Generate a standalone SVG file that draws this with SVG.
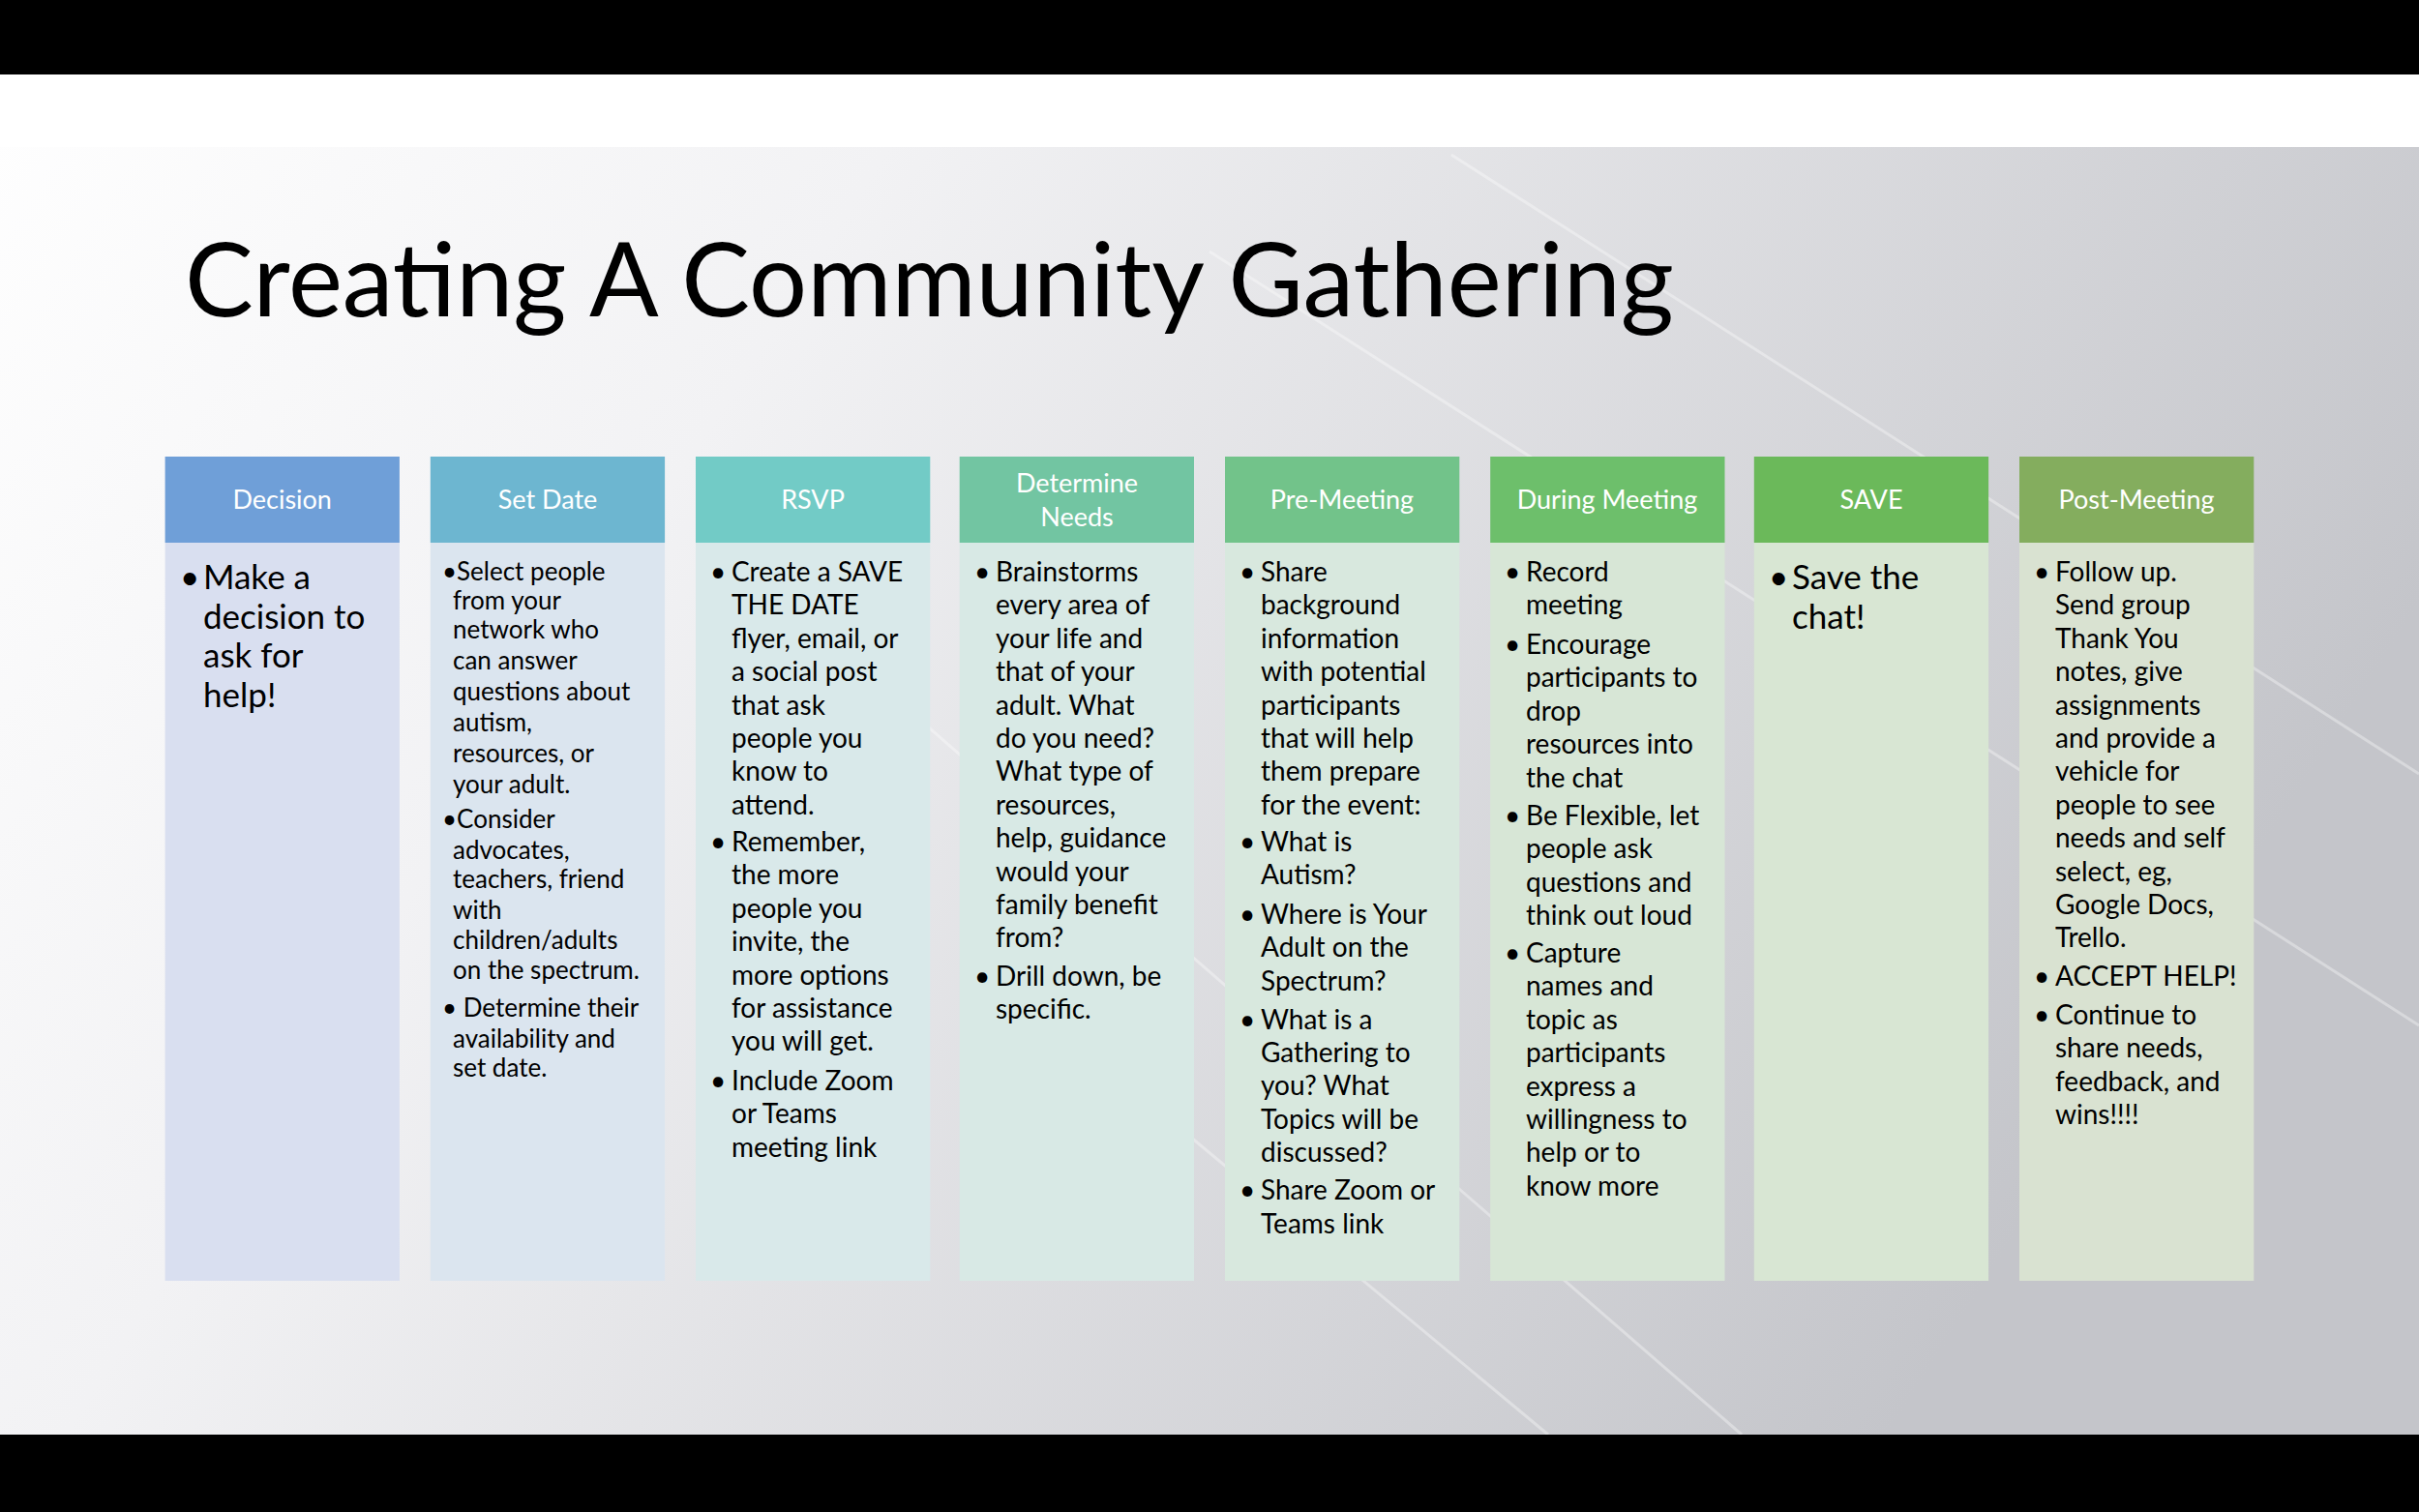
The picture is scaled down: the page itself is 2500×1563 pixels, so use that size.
<svg xmlns="http://www.w3.org/2000/svg" width="2500" height="1563" viewBox="0 0 2500 1563">
<defs>
<linearGradient id="bg" x1="0" y1="0" x2="1" y2="0.4"><stop offset="0" stop-color="#ffffff"/><stop offset="0.35" stop-color="#f2f2f4"/><stop offset="1" stop-color="#c4c5ca"/></linearGradient>
<style>
.h{fill:#fff;font-family:Lato,"Liberation Sans",sans-serif;font-size:27px;text-anchor:middle}
.t{fill:#000;font-family:Lato,"Liberation Sans",sans-serif;font-size:28px}
.s{font-size:26px}
.b{font-size:35px}
.ln{stroke:#fff;stroke-opacity:0.35;stroke-width:3}
</style>
</defs>
<rect width="2500" height="1563" fill="url(#bg)"/>
<rect x="0" y="77" width="2500" height="75" fill="#fff"/>
<g class="ln"><line x1="1250" y1="260" x2="2500" y2="1060"/><line x1="1500" y1="160" x2="2500" y2="800"/><line x1="900" y1="700" x2="1800" y2="1483"/><line x1="1200" y1="1150" x2="1600" y2="1483"/></g>
<rect x="0" y="0" width="2500" height="77" fill="#000"/>
<rect x="0" y="1483" width="2500" height="80" fill="#000"/>
<text x="191" y="327" font-family="Lato,'Liberation Sans',sans-serif" font-size="106" fill="#000">Creating A Community Gathering</text>

<g id="decision"><rect x="170.6" y="472" width="242.3" height="89" fill="#6f9fd8"/><rect x="170.6" y="561" width="242.3" height="763" fill="#d9dff0"/>
<text class="h" x="291.7" y="526">Decision</text>
<text class="t b"><tspan x="186" y="609">•</tspan><tspan x="210" y="609">Make a</tspan><tspan x="210" dy="40.5">decision to</tspan><tspan x="210" dy="40.5">ask for</tspan><tspan x="210" dy="40.5">help!</tspan></text></g>

<g id="setdate"><rect x="444.8" y="472" width="242.3" height="89" fill="#6db6d0"/><rect x="444.8" y="561" width="242.3" height="763" fill="#dbe5ef"/>
<text class="h" x="566" y="526">Set Date</text>
<text class="t s"><tspan x="457" y="599.5">•Select people</tspan><tspan x="468" y="629.8">from your</tspan><tspan x="468" y="660.1">network who</tspan><tspan x="468" y="692">can answer</tspan><tspan x="468" y="723.9">questions about</tspan><tspan x="468" y="755.7">autism,</tspan><tspan x="468" y="787.6">resources, or</tspan><tspan x="468" y="819.5">your adult.</tspan>
<tspan x="457" y="856.2">•Consider</tspan><tspan x="468" y="888.1">advocates,</tspan><tspan x="468" y="918.4">teachers, friend</tspan><tspan x="468" y="950.3">with</tspan><tspan x="468" y="980.6">children/adults</tspan><tspan x="468" y="1012.4">on the spectrum.</tspan>
<tspan x="457" y="1050.7">• Determine their</tspan><tspan x="468" y="1082.6">availability and</tspan><tspan x="468" y="1112.9">set date.</tspan></text></g>

<g id="rsvp"><rect x="719" y="472" width="242.3" height="89" fill="#72cbc6"/><rect x="719" y="561" width="242.3" height="763" fill="#d9e9ea"/>
<text class="h" x="840" y="526">RSVP</text>
<text class="t"><tspan x="734" y="601">•</tspan><tspan x="756" y="601">Create a SAVE</tspan><tspan x="756" dy="34.4">THE DATE</tspan><tspan x="756" dy="34.4">flyer, email, or</tspan><tspan x="756" dy="34.4">a social post</tspan><tspan x="756" dy="34.4">that ask</tspan><tspan x="756" dy="34.4">people you</tspan><tspan x="756" dy="34.4">know to</tspan><tspan x="756" dy="34.4">attend.</tspan>
<tspan x="734" y="880">•</tspan><tspan x="756" y="880">Remember,</tspan><tspan x="756" dy="34.4">the more</tspan><tspan x="756" dy="34.4">people you</tspan><tspan x="756" dy="34.4">invite, the</tspan><tspan x="756" dy="34.4">more options</tspan><tspan x="756" dy="34.4">for assistance</tspan><tspan x="756" dy="34.4">you will get.</tspan>
<tspan x="734" y="1127">•</tspan><tspan x="756" y="1127">Include Zoom</tspan><tspan x="756" dy="34.4">or Teams</tspan><tspan x="756" dy="34.4">meeting link</tspan></text></g>

<g id="needs"><rect x="991.7" y="472" width="242.3" height="89" fill="#72c5a2"/><rect x="991.7" y="561" width="242.3" height="763" fill="#d8e9e5"/>
<text class="h" x="1113" y="508.6">Determine</text><text class="h" x="1113" y="543.7">Needs</text>
<text class="t"><tspan x="1007" y="601">•</tspan><tspan x="1029" y="601">Brainstorms</tspan><tspan x="1029" dy="34.4">every area of</tspan><tspan x="1029" dy="34.4">your life and</tspan><tspan x="1029" dy="34.4">that of your</tspan><tspan x="1029" dy="34.4">adult. What</tspan><tspan x="1029" dy="34.4">do you need?</tspan><tspan x="1029" dy="34.4">What type of</tspan><tspan x="1029" dy="34.4">resources,</tspan><tspan x="1029" dy="34.4">help, guidance</tspan><tspan x="1029" dy="34.4">would your</tspan><tspan x="1029" dy="34.4">family benefit</tspan><tspan x="1029" dy="34.4">from?</tspan>
<tspan x="1007" y="1019">•</tspan><tspan x="1029" y="1019">Drill down, be</tspan><tspan x="1029" dy="34.4">specific.</tspan></text></g>

<g id="premeeting"><rect x="1266" y="472" width="242.3" height="89" fill="#72c38a"/><rect x="1266" y="561" width="242.3" height="763" fill="#d8e8de"/>
<text class="h" x="1387" y="526">Pre-Meeting</text>
<text class="t"><tspan x="1281" y="601">•</tspan><tspan x="1303" y="601">Share</tspan><tspan x="1303" dy="34.4">background</tspan><tspan x="1303" dy="34.4">information</tspan><tspan x="1303" dy="34.4">with potential</tspan><tspan x="1303" dy="34.4">participants</tspan><tspan x="1303" dy="34.4">that will help</tspan><tspan x="1303" dy="34.4">them prepare</tspan><tspan x="1303" dy="34.4">for the event:</tspan>
<tspan x="1281" y="880">•</tspan><tspan x="1303" y="880">What is</tspan><tspan x="1303" dy="34.4">Autism?</tspan>
<tspan x="1281" y="955">•</tspan><tspan x="1303" y="955">Where is Your</tspan><tspan x="1303" dy="34.4">Adult on the</tspan><tspan x="1303" dy="34.4">Spectrum?</tspan>
<tspan x="1281" y="1063.5">•</tspan><tspan x="1303" y="1063.5">What is a</tspan><tspan x="1303" dy="34.4">Gathering to</tspan><tspan x="1303" dy="34.4">you? What</tspan><tspan x="1303" dy="34.4">Topics will be</tspan><tspan x="1303" dy="34.4">discussed?</tspan>
<tspan x="1281" y="1240.4">•</tspan><tspan x="1303" y="1240.4">Share Zoom or</tspan><tspan x="1303" dy="34.4">Teams link</tspan></text></g>

<g id="during"><rect x="1540.2" y="472" width="242.3" height="89" fill="#6dbf6b"/><rect x="1540.2" y="561" width="242.3" height="763" fill="#d7e6d6"/>
<text class="h" x="1661" y="526">During Meeting</text>
<text class="t"><tspan x="1555" y="601">•</tspan><tspan x="1577" y="601">Record</tspan><tspan x="1577" dy="34.4">meeting</tspan>
<tspan x="1555" y="676">•</tspan><tspan x="1577" y="676">Encourage</tspan><tspan x="1577" dy="34.4">participants to</tspan><tspan x="1577" dy="34.4">drop</tspan><tspan x="1577" dy="34.4">resources into</tspan><tspan x="1577" dy="34.4">the chat</tspan>
<tspan x="1555" y="853">•</tspan><tspan x="1577" y="853">Be Flexible, let</tspan><tspan x="1577" dy="34.4">people ask</tspan><tspan x="1577" dy="34.4">questions and</tspan><tspan x="1577" dy="34.4">think out loud</tspan>
<tspan x="1555" y="995">•</tspan><tspan x="1577" y="995">Capture</tspan><tspan x="1577" dy="34.4">names and</tspan><tspan x="1577" dy="34.4">topic as</tspan><tspan x="1577" dy="34.4">participants</tspan><tspan x="1577" dy="34.4">express a</tspan><tspan x="1577" dy="34.4">willingness to</tspan><tspan x="1577" dy="34.4">help or to</tspan><tspan x="1577" dy="34.4">know more</tspan></text></g>

<g id="save"><rect x="1812.8" y="472" width="242.3" height="89" fill="#6bb95a"/><rect x="1812.8" y="561" width="242.3" height="763" fill="#d8e6d3"/>
<text class="h" x="1934" y="526">SAVE</text>
<text class="t b"><tspan x="1828" y="609">•</tspan><tspan x="1852" y="609">Save the</tspan><tspan x="1852" dy="40.5">chat!</tspan></text></g>

<g id="post"><rect x="2087" y="472" width="242.3" height="89" fill="#84ad5e"/><rect x="2087" y="561" width="242.3" height="763" fill="#d9e2d1"/>
<text class="h" x="2208" y="526">Post-Meeting</text>
<text class="t"><tspan x="2102" y="601">•</tspan><tspan x="2124" y="601">Follow up.</tspan><tspan x="2124" dy="34.4">Send group</tspan><tspan x="2124" dy="34.4">Thank You</tspan><tspan x="2124" dy="34.4">notes, give</tspan><tspan x="2124" dy="34.4">assignments</tspan><tspan x="2124" dy="34.4">and provide a</tspan><tspan x="2124" dy="34.4">vehicle for</tspan><tspan x="2124" dy="34.4">people to see</tspan><tspan x="2124" dy="34.4">needs and self</tspan><tspan x="2124" dy="34.4">select, eg,</tspan><tspan x="2124" dy="34.4">Google Docs,</tspan><tspan x="2124" dy="34.4">Trello.</tspan>
<tspan x="2102" y="1019">•</tspan><tspan x="2124" y="1019">ACCEPT HELP!</tspan>
<tspan x="2102" y="1058.7">•</tspan><tspan x="2124" y="1058.7">Continue to</tspan><tspan x="2124" dy="34.4">share needs,</tspan><tspan x="2124" dy="34.4">feedback, and</tspan><tspan x="2124" dy="34.4">wins!!!!</tspan></text></g>
</svg>
